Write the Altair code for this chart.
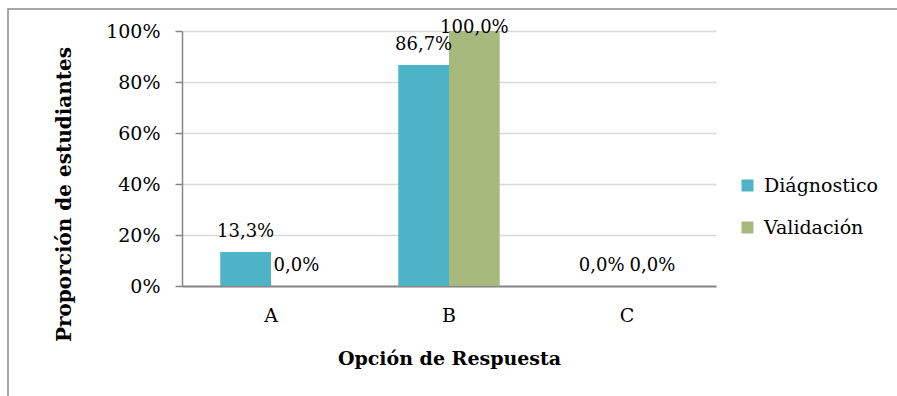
import altair as alt
import pandas as pd

# Response options and the share of students per option, for each stage
opciones = ["A", "B", "C"]
series = ["Diágnostico", "Validación"]
diagnostico = [0.133, 0.867, 0.0]
validacion = [0.0, 1.0, 0.0]
colores = ["#4FB3C8", "#A8B97D"]

rows = []
for i, op in enumerate(opciones):
    rows.append({"opcion": op, "serie": series[0], "valor": diagnostico[i]})
    rows.append({"opcion": op, "serie": series[1], "valor": validacion[i]})
df = pd.DataFrame(rows)

FONT = "DejaVu Serif"
W, H = 534, 255
GRAY = "#868686"
Y_TITLE = "Proporción de estudiantes"

x_axis = alt.Axis(
    title="Opción de Respuesta",
    labelAngle=0,
    ticks=False,
    grid=False,
    domainColor=GRAY,
    domainWidth=2,
    labelPadding=20,
    titlePadding=24,
    labelFontSize=19,
    labelColor="#000",
    titleFontSize=19,
    titleFontWeight="bold",
    titleColor="#000",
)
y_axis = alt.Axis(
    title=Y_TITLE,
    format=".0%",
    values=[0, 0.2, 0.4, 0.6, 0.8, 1.0],
    tickSize=7,
    tickColor=GRAY,
    tickWidth=1.5,
    domainColor=GRAY,
    domainWidth=1.5,
    gridColor="#D9D9D9",
    gridWidth=1.5,
    labelPadding=15,
    labelFontSize=19,
    labelColor="#000",
    titlePadding=31,
    titleY=163,
    titleFontSize=20,
    titleFontWeight="bold",
    titleColor="#000",
)
y_scale = alt.Scale(domain=[0, 1])
xoff = alt.XOffset("serie:N", sort=series, scale=alt.Scale(paddingInner=0, paddingOuter=0))

bars = alt.Chart(df).mark_bar().encode(
    x=alt.X("opcion:N", sort=opciones,
            scale=alt.Scale(paddingInner=0.43, paddingOuter=0.215), axis=x_axis),
    xOffset=xoff,
    y=alt.Y("valor:Q", scale=y_scale, axis=y_axis),
    color=alt.Color(
        "serie:N",
        sort=series,
        scale=alt.Scale(domain=series, range=colores),
        legend=alt.Legend(
            title=None,
            orient="none",
            legendX=556,
            legendY=145,
            symbolType="square",
            symbolSize=144,
            symbolStrokeWidth=0,
            labelFontSize=19,
            labelColor="#000",
            labelOffset=7,
            rowPadding=22,
        ),
    ),
)

labels = (
    alt.Chart(df)
    .transform_calculate(
        etiqueta="replace(format(datum.valor * 100, '.1f'), '.', ',') + '%'",
        pos="min(datum.valor + 0.08, 1.01)",
    )
    .mark_text(fontSize=18, color="#000", baseline="middle")
    .encode(
        x=alt.X("opcion:N", sort=opciones, axis=x_axis),
        xOffset=xoff,
        y=alt.Y("pos:Q", scale=y_scale, axis=y_axis),
        text="etiqueta:N",
    )
)

# Outer frame around the whole figure
frame = (
    alt.Chart(pd.DataFrame({"k": [0]}))
    .mark_rect(fill="transparent", stroke="#8C8C8C", strokeWidth=1.5, clip=False)
    .encode(
        x=alt.value(-174),
        x2=alt.value(W + 250),
        y=alt.value(-22),
        y2=alt.value(H + 250),
    )
)

chart = (
    alt.layer(bars, labels, frame)
    .properties(
        width=W,
        height=H,
        autosize=alt.AutoSizeParams(type="none"),
        padding={"left": 182, "top": 31, "right": 181, "bottom": 110},
        background="white",
    )
    .configure(font=FONT)
    .configure_view(stroke=None)
)

chart.save("out.html", embed_options={"renderer": "svg", "actions": False})
